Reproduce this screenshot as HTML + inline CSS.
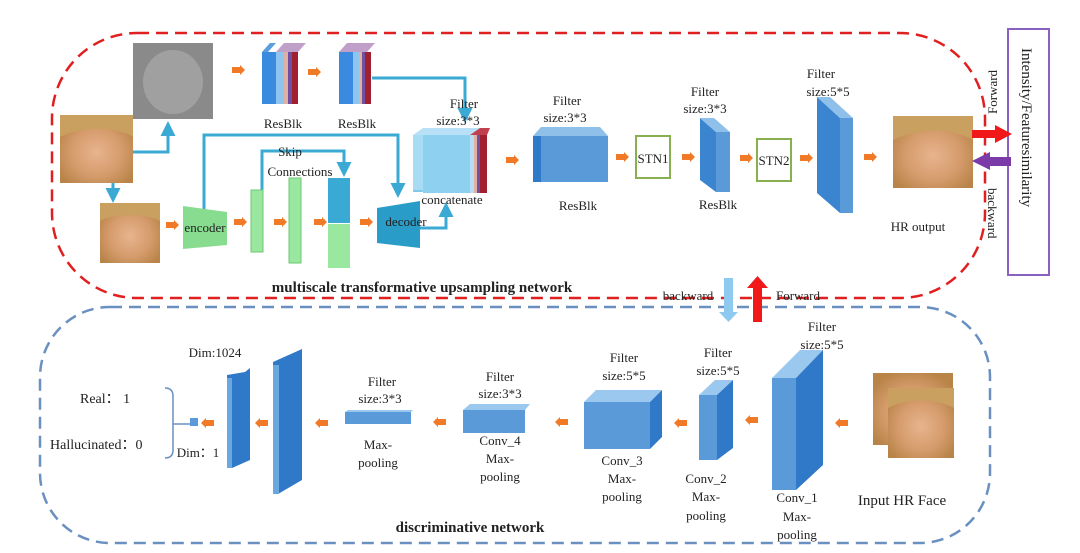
<!DOCTYPE html>
<html><head><meta charset="utf-8"><style>
html,body{margin:0;padding:0;background:#fff;}
svg{display:block;}
text{font-family:"Liberation Serif",serif;fill:#222;}
</style></head><body>
<svg width="1080" height="553" viewBox="0 0 1080 553" xmlns="http://www.w3.org/2000/svg">
<defs>
<marker id="ab" viewBox="0 0 10 10" refX="8" refY="5" markerWidth="5" markerHeight="5" orient="auto"><path d="M0,0L10,5L0,10z" fill="#3aaad4"/></marker>
<radialGradient id="face" cx="50%" cy="55%" r="60%"><stop offset="0" stop-color="#e8b48e"/><stop offset="0.6" stop-color="#d49a6a"/><stop offset="1" stop-color="#b88448"/></radialGradient>
<g id="oa"><path d="M-6,-3L2,-3L2,-5L7,0L2,5L2,3L-6,3z" fill="#f07a28"/></g>
</defs>
<!-- containers -->
<rect x="52" y="33" width="933" height="265" rx="85" fill="none" stroke="#e02020" stroke-width="2.5" stroke-dasharray="12,7"/>
<rect x="40" y="307" width="950" height="236" rx="70" fill="none" stroke="#6a90c0" stroke-width="2.5" stroke-dasharray="12,7"/>
<!-- faces -->
<rect x="133" y="43" width="80" height="76" fill="#8a8a8a"/>
<ellipse cx="173" cy="82" rx="30" ry="32" fill="#a0a0a0"/>
<rect x="60" y="115" width="73" height="68" fill="url(#face)"/>
<path d="M60,115h73v22c-15,-10 -50,-12 -73,0z" fill="#c9a060"/>
<rect x="100" y="203" width="60" height="60" fill="url(#face)"/>
<path d="M100,203h60v18c-15,-8 -45,-8 -60,0z" fill="#c9a060"/>
<rect x="893" y="116" width="80" height="72" fill="url(#face)"/>
<path d="M893,116h80v24c-20,-12 -55,-12 -80,0z" fill="#c9a060"/>
<rect x="873" y="373" width="80" height="72" fill="url(#face)"/>
<rect x="888" y="388" width="66" height="70" fill="url(#face)"/>
<path d="M888,388h66v20c-18,-10 -48,-10 -66,0z" fill="#c9a060"/>
<!-- blue connectors -->
<g fill="none" stroke="#3aaad4" stroke-width="3">
<path d="M133,152H168V124" marker-end="url(#ab)"/>
<path d="M113,183V200" marker-end="url(#ab)"/>
<path d="M372,78H465V120" marker-end="url(#ab)"/>
<path d="M204,210V135H398V195" marker-end="url(#ab)"/>
<path d="M262,190V151H344V174" marker-end="url(#ab)"/>
<path d="M420,228H446V205" marker-end="url(#ab)"/>
</g>
<!-- ResBlk top stacks -->
<g>
<polygon points="262,52 270,43 276,43 268,52" fill="#5a9ee0"/>
<rect x="262" y="52" width="14" height="52" fill="#3a8ae0"/>
<rect x="276" y="52" width="8" height="52" fill="#8ec4f0"/><rect x="284" y="52" width="4" height="52" fill="#e0b0a0"/><rect x="288" y="52" width="4" height="52" fill="#7050a0"/><rect x="292" y="52" width="6" height="52" fill="#a02030"/>
<polygon points="276,52 284,43 306,43 298,52" fill="#c0a0c8"/>
<rect x="339" y="52" width="14" height="52" fill="#3a8ae0"/>
<polygon points="339,52 347,43 375,43 367,52" fill="#c0a0c8"/>
<rect x="353" y="52" width="6" height="52" fill="#8ec4f0"/><rect x="359" y="52" width="3" height="52" fill="#e0b0a0"/><rect x="362" y="52" width="3" height="52" fill="#7050a0"/><rect x="365" y="52" width="6" height="52" fill="#a02030"/>
</g>
<text x="283" y="128" font-size="13" text-anchor="middle">ResBlk</text>
<text x="357" y="128" font-size="13" text-anchor="middle">ResBlk</text>
<!-- encoder/decoder & skip -->
<polygon points="183,206 227,212 227,245 183,249" fill="#88dc90"/>
<text x="205" y="232" font-size="13" text-anchor="middle">encoder</text>
<rect x="251" y="190" width="12" height="62" fill="#9ae8a0" stroke="#6ac870"/>
<rect x="289" y="178" width="12" height="85" fill="#9ae8a0" stroke="#6ac870"/>
<rect x="328" y="178" width="22" height="45" fill="#3aaad4"/>
<rect x="328" y="224" width="22" height="44" fill="#9ae8a0"/>
<polygon points="377,208 420,201 420,248 377,243" fill="#2a9cc8"/>
<text x="406" y="226" font-size="13" text-anchor="middle">decoder</text>
<text x="290" y="156" font-size="13" text-anchor="middle">Skip</text>
<text x="300" y="176" font-size="13" text-anchor="middle">Connections</text>
<!-- concat cube -->
<polygon points="413,135 423,128 480,128 470,135" fill="#b8e0f6"/>
<polygon points="413,135 423,192 423,192 413,192" fill="#7ec8ea"/>
<rect x="423" y="135" width="47" height="58" fill="#8ed0f0"/>
<rect x="413" y="135" width="10" height="55" fill="#a8dcf4"/>
<rect x="470" y="135" width="4" height="58" fill="#b8dcf4"/><rect x="474" y="135" width="3" height="58" fill="#e0b0a0"/><rect x="477" y="135" width="3" height="58" fill="#7050a0"/><rect x="480" y="135" width="7" height="58" fill="#a02030"/>
<polygon points="470,135 480,128 490,128 487,135" fill="#c04050"/>
<text x="464" y="108" font-size="13" text-anchor="middle">Filter</text>
<text x="458" y="125" font-size="13" text-anchor="middle">size:3*3</text>
<text x="452" y="204" font-size="13" text-anchor="middle">concatenate</text>
<!-- resblk cube -->
<polygon points="533,136 541,127 600,127 608,136" fill="#8ec0ea"/>
<rect x="533" y="136" width="10" height="46" fill="#2e7ac8"/>
<rect x="541" y="136" width="67" height="46" fill="#5a9ad8"/>
<text x="567" y="105" font-size="13" text-anchor="middle">Filter</text>
<text x="565" y="122" font-size="13" text-anchor="middle">size:3*3</text>
<text x="578" y="210" font-size="13" text-anchor="middle">ResBlk</text>
<rect x="636" y="136" width="34" height="42" fill="none" stroke="#88b050" stroke-width="2"/>
<text x="653" y="163" font-size="13" text-anchor="middle">STN1</text>
<polygon points="700,118 716,132 716,192 700,180" fill="#3a84d0"/>
<polygon points="700,118 716,132 730,132 714,118" fill="#8ec0ea"/>
<rect x="716" y="132" width="14" height="60" fill="#5a9ad8"/>
<text x="705" y="96" font-size="13" text-anchor="middle">Filter</text>
<text x="705" y="113" font-size="13" text-anchor="middle">size:3*3</text>
<text x="718" y="209" font-size="13" text-anchor="middle">ResBlk</text>
<rect x="757" y="139" width="34" height="42" fill="none" stroke="#88b050" stroke-width="2"/>
<text x="774" y="165" font-size="13" text-anchor="middle">STN2</text>
<polygon points="817,97 840,118 840,213 817,193" fill="#3a84d0"/>
<polygon points="817,97 840,118 853,118 830,97" fill="#8ec0ea"/>
<rect x="840" y="118" width="13" height="95" fill="#5a9ad8"/>
<text x="821" y="78" font-size="13" text-anchor="middle">Filter</text>
<text x="828" y="96" font-size="13" text-anchor="middle">size:5*5</text>
<text x="918" y="231" font-size="13" text-anchor="middle">HR output</text>
<!-- orange arrows top -->
<use href="#oa" x="238" y="70"/><use href="#oa" x="314" y="72"/>
<use href="#oa" x="172" y="225"/><use href="#oa" x="240" y="222"/><use href="#oa" x="280" y="222"/><use href="#oa" x="320" y="222"/><use href="#oa" x="366" y="222"/>
<use href="#oa" x="512" y="160"/><use href="#oa" x="622" y="157"/><use href="#oa" x="688" y="157"/><use href="#oa" x="746" y="158"/><use href="#oa" x="806" y="158"/><use href="#oa" x="870" y="157"/>
<!-- purple box & arrows -->
<rect x="1008" y="29" width="41" height="246" fill="none" stroke="#8a60c0" stroke-width="2"/>
<text transform="translate(1022,48) rotate(90)" font-size="15">Intensity/Featuresimilarity</text>
<path d="M972,130H995V125L1012,134L995,143V138H972z" fill="#f01818"/>
<path d="M1011,157H990V152L972,161L990,170V166H1011z" fill="#7a3aa8"/>
<text transform="translate(997,114) rotate(-90)" font-size="13">Forward</text>
<text transform="translate(988,188) rotate(90)" font-size="13">backward</text>
<!-- title -->
<text x="422" y="292" font-size="15" font-weight="bold" text-anchor="middle">multiscale transformative upsampling network</text>
<!-- between arrows -->
<path d="M724,278H733V312H738L728.5,322L719,312H724z" fill="#8ecaf0"/>
<path d="M753,322V288H747L757.5,276L768,288H762V322z" fill="#f01818"/>
<text x="688" y="300" font-size="13" text-anchor="middle">backward</text>
<text x="798" y="300" font-size="13" text-anchor="middle">Forward</text>
<!-- bottom -->
<text x="80" y="403" font-size="14">Real：  1</text>
<text x="50" y="449" font-size="14">Hallucinated：0</text>
<path d="M165,388q8,0 8,8V450q0,8 -8,8M173,424H190" fill="none" stroke="#6a90c0" stroke-width="1.5"/>
<rect x="190" y="418" width="8" height="8" fill="#5a9ad8"/>
<text x="215" y="357" font-size="13" text-anchor="middle">Dim:1024</text>
<text x="198" y="457" font-size="13" text-anchor="middle">Dim：1</text>
<polygon points="227,375 245,372 250,368 250,460 232,468 227,468" fill="#3078c8"/>
<rect x="227" y="378" width="5" height="90" fill="#6aa8e0"/>
<polygon points="273,362 302,349 302,480 278,494 273,494" fill="#3078c8"/>
<rect x="273" y="365" width="6" height="129" fill="#6aa8e0"/>
<rect x="345" y="412" width="66" height="12" fill="#5a9ad8"/>
<polygon points="345,412 348,410 413,410 411,412" fill="#9ac8ee"/>
<text x="382" y="386" font-size="13" text-anchor="middle">Filter</text>
<text x="380" y="403" font-size="13" text-anchor="middle">size:3*3</text>
<text x="378" y="449" font-size="13" text-anchor="middle">Max-</text>
<text x="378" y="467" font-size="13" text-anchor="middle">pooling</text>
<rect x="463" y="410" width="62" height="23" fill="#5a9ad8"/>
<polygon points="463,410 470,404 530,404 525,410" fill="#9ac8ee"/>
<text x="500" y="381" font-size="13" text-anchor="middle">Filter</text>
<text x="500" y="398" font-size="13" text-anchor="middle">size:3*3</text>
<text x="500" y="445" font-size="13" text-anchor="middle">Conv_4</text>
<text x="500" y="463" font-size="13" text-anchor="middle">Max-</text>
<text x="500" y="481" font-size="13" text-anchor="middle">pooling</text>
<rect x="584" y="402" width="66" height="47" fill="#5a9ad8"/>
<polygon points="584,402 596,390 662,390 650,402" fill="#9ac8ee"/>
<polygon points="650,402 662,390 662,437 650,449" fill="#3078c8"/>
<text x="624" y="362" font-size="13" text-anchor="middle">Filter</text>
<text x="624" y="380" font-size="13" text-anchor="middle">size:5*5</text>
<text x="622" y="465" font-size="13" text-anchor="middle">Conv_3</text>
<text x="622" y="483" font-size="13" text-anchor="middle">Max-</text>
<text x="622" y="501" font-size="13" text-anchor="middle">pooling</text>
<rect x="699" y="395" width="18" height="65" fill="#5a9ad8"/>
<polygon points="699,395 715,380 733,380 717,395" fill="#9ac8ee"/>
<polygon points="717,395 733,380 733,448 717,460" fill="#3078c8"/>
<text x="718" y="357" font-size="13" text-anchor="middle">Filter</text>
<text x="718" y="375" font-size="13" text-anchor="middle">size:5*5</text>
<text x="706" y="483" font-size="13" text-anchor="middle">Conv_2</text>
<text x="706" y="501" font-size="13" text-anchor="middle">Max-</text>
<text x="706" y="520" font-size="13" text-anchor="middle">pooling</text>
<rect x="772" y="378" width="24" height="112" fill="#5a9ad8"/>
<polygon points="772,378 800,350 823,350 796,378" fill="#9ac8ee"/>
<polygon points="796,378 823,350 823,465 796,490" fill="#3078c8"/>
<text x="822" y="331" font-size="13" text-anchor="middle">Filter</text>
<text x="822" y="349" font-size="13" text-anchor="middle">size:5*5</text>
<text x="797" y="502" font-size="13" text-anchor="middle">Conv_1</text>
<text x="797" y="521" font-size="13" text-anchor="middle">Max-</text>
<text x="797" y="539" font-size="13" text-anchor="middle">pooling</text>
<text x="902" y="505" font-size="15" text-anchor="middle">Input HR Face</text>
<g transform="rotate(180)">
<use href="#oa" x="-208" y="-423"/><use href="#oa" x="-262" y="-423"/><use href="#oa" x="-322" y="-423"/><use href="#oa" x="-440" y="-422"/><use href="#oa" x="-562" y="-422"/><use href="#oa" x="-681" y="-423"/><use href="#oa" x="-752" y="-420"/><use href="#oa" x="-842" y="-423"/>
</g>
<text x="470" y="532" font-size="15" font-weight="bold" text-anchor="middle">discriminative  network</text>
</svg>
</body></html>
